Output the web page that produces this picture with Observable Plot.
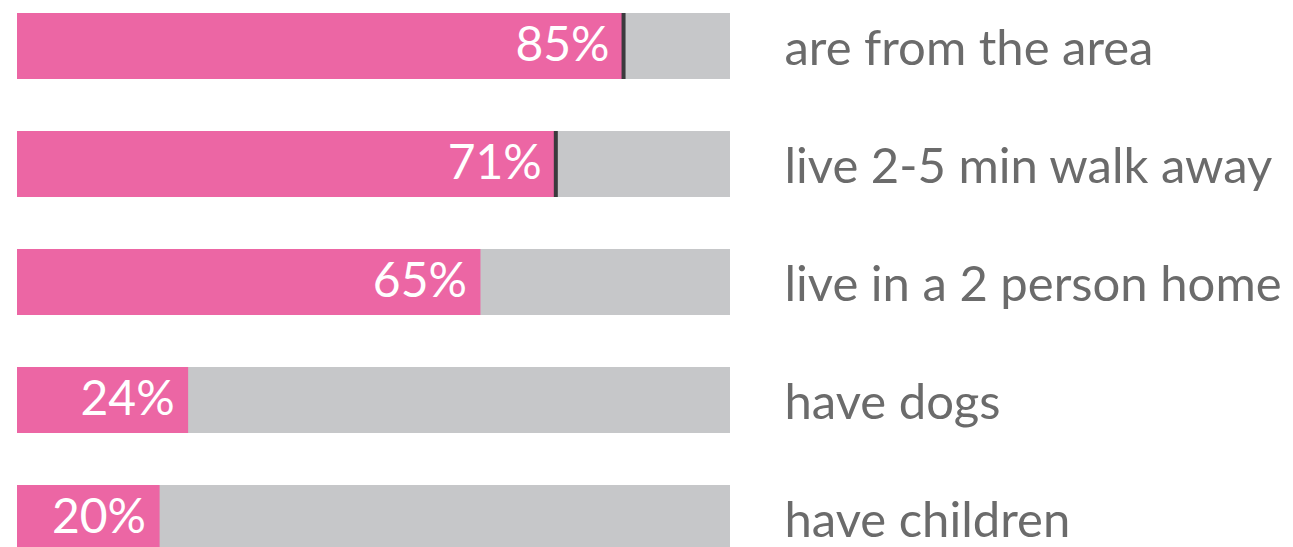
<!DOCTYPE html>
<html>
<head>
<meta charset="utf-8">
<script src="https://cdn.jsdelivr.net/npm/d3@7"></script>
<script src="https://cdn.jsdelivr.net/npm/@observablehq/plot@0.6"></script>
<style>
  html, body { margin: 0; padding: 0; background: #fff; overflow: hidden; }
</style>
</head>
<body>
<div id="chart"></div>
<script>
const categories = ["are from the area", "live 2-5 min walk away", "live in a 2 person home", "have dogs", "have children"];
const barValues = [85, 75.5, 65, 24, 20];
const valueLabels = ["85%", "71%", "65%", "24%", "20%"];
const markerValues = [85, 75.5, null, null, null];
const totalValue = 100;

const rows = categories.map((c, i) => ({
  category: c,
  value: barValues[i],
  label: valueLabels[i],
  marker: markerValues[i],
  total: totalValue
}));

const font = "Lato, 'Open Sans', sans-serif";

const chart = Plot.plot({
  width: 1293,
  height: 547,
  marginTop: 0, marginBottom: 0, marginLeft: 0, marginRight: 0,
  style: { fontFamily: font, background: "#fff" },
  x: { domain: [0, 100], range: [17, 730], axis: null },
  y: { domain: categories, range: [12, 552], paddingInner: 0.443, paddingOuter: 0, axis: null },
  marks: [
    Plot.barX(rows, { x1: 0, x2: "total", y: "category", fill: "#c6c7c9" }),
    Plot.barX(rows, { x1: 0, x2: "value", y: "category", fill: "#ec66a4" }),
    Plot.tickX(rows.filter(d => d.marker != null), { x: "marker", y: "category", stroke: "#3b3a3d", strokeWidth: 4 }),
    Plot.text(rows, { x: "value", y: "category", text: "label", textAnchor: "end", dx: -14, dy: -1, fill: "#fff", fontSize: 48, fontFamily: font }),
    Plot.text(rows, { x: 100, y: "category", text: "category", textAnchor: "start", dx: 54, dy: 3, fill: "#6b6b6b", fontSize: 49, fontFamily: font })
  ]
});
document.getElementById("chart").appendChild(chart);
</script>
</body>
</html>
